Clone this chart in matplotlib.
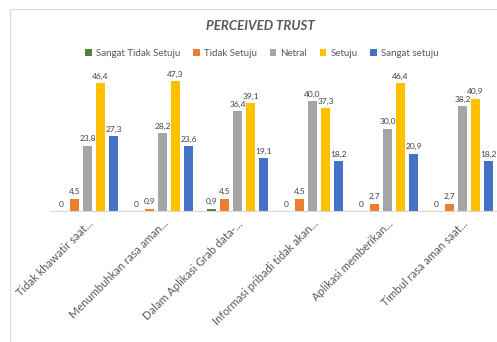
import matplotlib.pyplot as plt
import matplotlib.patches as patches
import numpy as np

# ===== DATA =====
categories = [
    "Tidak khawatir saat...",
    "Menumbuhkan rasa aman...",
    "Dalam Aplikasi Grab data-...",
    "Informasi pribadi tidak akan...",
    "Aplikasi memberikan...",
    "Timbul rasa aman saat...",
]
series_names = ["Sangat Tidak Setuju", "Tidak Setuju", "Netral", "Setuju", "Sangat setuju"]
sangat_tidak_setuju = [0, 0, 0.9, 0, 0, 0]
tidak_setuju = [4.5, 0.9, 4.5, 4.5, 2.7, 2.7]
netral = [23.8, 28.2, 36.4, 40.0, 30.0, 38.2]
setuju = [46.4, 47.3, 39.1, 37.3, 46.4, 40.9]
sangat_setuju = [27.3, 23.6, 19.1, 18.2, 20.9, 18.2]

colors = ["#548235", "#ED7D31", "#A5A5A5", "#FFC000", "#4472C4"]
text_gray = "#595959"

plt.rcParams['font.family'] = ['Lato', 'DejaVu Sans']

fig = plt.figure(figsize=(4.97, 3.42), dpi=100)
W, H = 497, 342

# chart frame (runs off the right and bottom edges)
fig.patches.append(patches.Rectangle((10/W, -0.05), 1.1, 1.05 - 9/H,
                                     transform=fig.transFigure, fill=False,
                                     edgecolor="#d9d9d9", linewidth=0.8))

ax = fig.add_axes([50/W, (H-211)/H, 450/W, 137.5/H])

all_series = [sangat_tidak_setuju, tidak_setuju, netral, setuju, sangat_setuju]
x = np.arange(len(categories))
step = 0.173
width = 0.125
for i, (vals, name, c) in enumerate(zip(all_series, series_names, colors)):
    pos = x + (i - 2) * step
    ax.bar(pos, vals, width=width, color=c, label=name)
    for p, v in zip(pos, vals):
        lab = "0" if v == 0 else f"{v:.1f}".replace(".", ",")
        ax.text(p, v + 1.2, lab, ha="center", va="bottom", fontsize=6, color="#404040")

ax.set_xlim(-0.5, 5.5)
ax.set_ylim(0, 50)
ax.set_yticks([])
for s in ["left", "right", "top"]:
    ax.spines[s].set_visible(False)
ax.spines["bottom"].set_color("#d9d9d9")
ax.set_xticks(x)
ax.set_xticklabels(categories, rotation=45, ha="right", rotation_mode="anchor",
                   fontsize=8, color=text_gray)
ax.tick_params(axis="x", length=0, pad=5)

fig.text(260/W, 1 - 26/H, "PERCEIVED TRUST", ha="center", va="center",
         fontsize=9.5, fontweight="bold", fontstyle="italic", color=text_gray)

fig.legend(loc="center", bbox_to_anchor=(262/W, 1 - 53/H), ncol=5, frameon=False,
           fontsize=7, handlelength=0.7, handleheight=0.7, handletextpad=0.4,
           columnspacing=1.3, labelcolor=text_gray)

fig.savefig("out.png", dpi=100)
